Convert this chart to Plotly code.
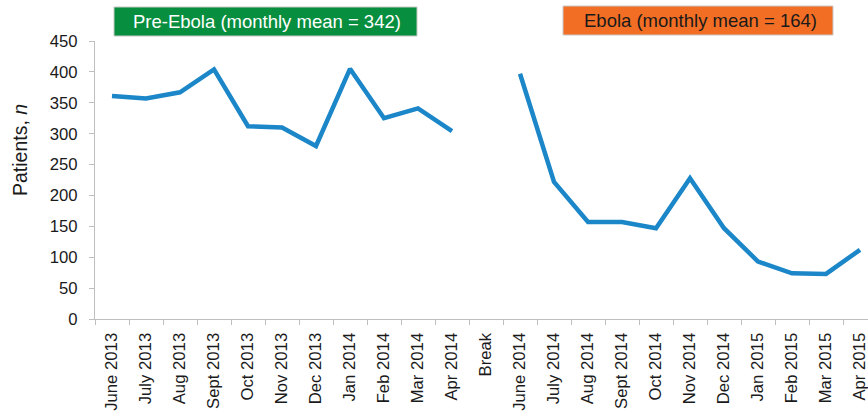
import plotly.graph_objects as go

categories = ["June 2013", "July 2013", "Aug 2013", "Sept 2013", "Oct 2013", "Nov 2013",
              "Dec 2013", "Jan 2014", "Feb 2014", "Mar 2014", "Apr 2014", "Break",
              "June 2014", "July 2014", "Aug 2014", "Sept 2014", "Oct 2014", "Nov 2014",
              "Dec 2014", "Jan 2015", "Feb 2015", "Mar 2015", "Apr 2015"]
pre_ebola = [361, 357, 367, 404, 312, 310, 280, 405, 325, 341, 304]
break_value = [None]
ebola = [397, 222, 157, 157, 147, 228, 147, 93, 74, 73, 112]
patients = pre_ebola + break_value + ebola

y_ticks = [0, 50, 100, 150, 200, 250, 300, 350, 400, 450]
pre_label = "Pre-Ebola (monthly mean = 342)"
ebola_label = "Ebola (monthly mean = 164)"

FONT = "Liberation Sans, Arial, sans-serif"
AXIS_GRAY = "#BFBFBF"

fig = go.Figure()
fig.add_trace(go.Scatter(
    x=categories, y=patients, mode="lines",
    line=dict(color="#1B86C8", width=4.5),
    connectgaps=False, showlegend=False, hoverinfo="x+y",
))

fig.update_layout(
    width=868, height=418,
    margin=dict(l=95, r=0, t=41, b=99, pad=0),
    paper_bgcolor="white", plot_bgcolor="white",
    font=dict(family=FONT, color="#1a1a1a", size=17),
    xaxis=dict(
        type="category", categoryorder="array", categoryarray=categories,
        range=[-0.5, 22.235], automargin=False,
        showline=True, linecolor=AXIS_GRAY, linewidth=1.3,
        ticks="outside", tickson="boundaries", ticklen=5, tickcolor=AXIS_GRAY, tickwidth=1.3,
        tickangle=-90, tickfont=dict(size=16.7, family=FONT, color="#1a1a1a"),
        showgrid=False, zeroline=False, ticklabelstandoff=6,
    ),
    yaxis=dict(
        range=[0, 450], tickvals=y_ticks, automargin=False,
        showline=True, linecolor=AXIS_GRAY, linewidth=1.3,
        ticks="outside", ticklen=5, tickcolor=AXIS_GRAY, tickwidth=1.3,
        tickfont=dict(size=16.7, family=FONT, color="#1a1a1a"),
        showgrid=False, zeroline=False, ticklabelstandoff=8,
    ),
)

def px_x(p):
    return (p - 95) / 773.0

def px_y(p):
    return (319 - p) / 278.0

# Header boxes
fig.add_shape(type="rect", xref="paper", yref="paper",
              x0=px_x(114), x1=px_x(417), y0=px_y(36), y1=px_y(7),
              fillcolor="#078E3E", line=dict(color="#C8C8C8", width=1))
fig.add_shape(type="rect", xref="paper", yref="paper",
              x0=px_x(563), x1=px_x(833), y0=px_y(35), y1=px_y(6),
              fillcolor="#F26E24", line=dict(color="#C8C8C8", width=1))
fig.add_annotation(text=pre_label, xref="paper", yref="paper",
                   x=px_x(267), y=px_y(21.5), xanchor="center", yanchor="middle",
                   showarrow=False, font=dict(size=18.5, color="white", family=FONT))
fig.add_annotation(text=ebola_label, xref="paper", yref="paper",
                   x=px_x(700), y=px_y(20.5), xanchor="center", yanchor="middle",
                   showarrow=False, font=dict(size=18.5, color="#1a1a1a", family=FONT))

# Y axis title
fig.add_annotation(text="Patients, <i>n</i>", xref="paper", yref="paper",
                   x=px_x(20), y=px_y(150), xanchor="center", yanchor="middle",
                   textangle=-90, showarrow=False,
                   font=dict(size=19.5, color="#1a1a1a", family=FONT))

fig.write_html(
    "out.html",
    config={"displayModeBar": False},
    post_script="document.body.style.margin='0';document.body.style.overflow='hidden';",
)
